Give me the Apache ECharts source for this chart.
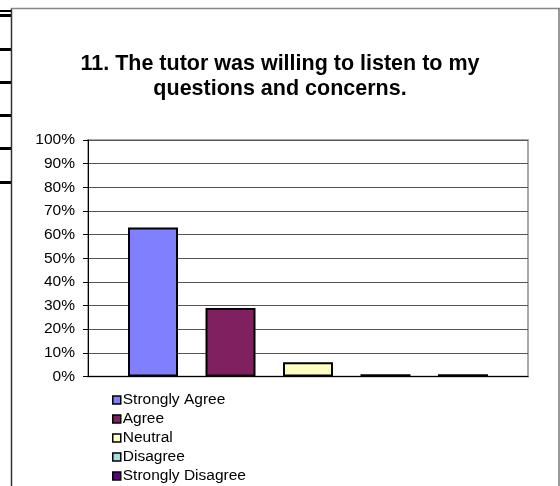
<!DOCTYPE html>
<html>
<head>
<meta charset="utf-8">
<script src="https://cdn.jsdelivr.net/npm/echarts@6/dist/echarts.min.js"></script>
<style>
html,body{margin:0;padding:0;background:#fff;}
#chart{width:560px;height:486px;}
</style>
</head>
<body>
<div id="chart"></div>
<script>
const titleText = '11. The tutor was willing to listen to my\nquestions and concerns.';
const categories = [''];
const seriesNames = ['Strongly Agree', 'Agree', 'Neutral', 'Disagree', 'Strongly Disagree'];
const seriesValues = [63, 29, 6, 1, 1];
const seriesColors = ['#8080FF', '#802060', '#FFFFC0', '#A0E0E0', '#600080'];
const yMin = 0, yMax = 100, yStep = 10;

const FONT = '"Liberation Sans", Arial, sans-serif';
const chart = echarts.init(document.getElementById('chart'), null, {renderer: 'canvas'});

const decoBars = [[10, 2], [14, 3], [48, 3], [81, 3], [114, 3], [147, 3], [181, 3]];
const graphics = decoBars.map(function (d) {
  return {type: 'rect', shape: {x: 0, y: d[0], width: 11, height: d[1]}, style: {fill: '#000'}, silent: true};
});
graphics.push({type: 'line', shape: {x1: 11.5, y1: 8, x2: 11.5, y2: 486}, style: {stroke: '#333', lineWidth: 1.5}, silent: true});
graphics.push({type: 'line', shape: {x1: 11, y1: 8.5, x2: 560, y2: 8.5}, style: {stroke: '#888', lineWidth: 1.5}, silent: true});
graphics.push({type: 'line', shape: {x1: 559, y1: 8, x2: 559, y2: 486}, style: {stroke: '#777', lineWidth: 1.5}, silent: true});

chart.setOption({
  animation: false,
  backgroundColor: '#fff',
  textStyle: {fontFamily: FONT},
  title: {
    text: titleText,
    left: 'center',
    top: 47,
    textStyle: {fontFamily: FONT, fontSize: 21.5, fontWeight: 'bold', color: '#000', lineHeight: 25}
  },
  graphic: graphics,
  grid: {
    left: 88, right: 32, top: 140, bottom: 109.5,
    show: true, borderColor: '#aaa', borderWidth: 2, backgroundColor: 'transparent',
    containLabel: false
  },
  legend: {
    orient: 'vertical',
    left: 112,
    top: 392,
    itemWidth: 8,
    itemHeight: 8,
    itemGap: 3,
    icon: 'rect',
    padding: 0,
    textStyle: {fontFamily: FONT, fontSize: 15.5, color: '#000', lineHeight: 16, padding: [0, 0, 0, -3]},
    data: seriesNames.map(function (n, i) {
      return {name: n, itemStyle: {color: seriesColors[i], borderColor: '#000', borderWidth: 1.5}};
    })
  },
  xAxis: {
    type: 'category',
    data: categories,
    axisLine: {show: true, lineStyle: {color: '#000', width: 1}},
    axisTick: {show: false},
    axisLabel: {show: false},
    splitLine: {show: false}
  },
  yAxis: {
    type: 'value',
    min: yMin, max: yMax, interval: yStep,
    axisLine: {show: true, lineStyle: {color: '#000', width: 1}},
    axisTick: {show: true, length: 5, lineStyle: {color: '#000'}},
    axisLabel: {formatter: '{value}%', fontFamily: FONT, fontSize: 15.5, color: '#000', margin: 13},
    splitLine: {show: true, lineStyle: {color: '#555', width: 1}}
  },
  series: seriesNames.map(function (n, i) {
    return {
      name: n,
      type: 'bar',
      data: [seriesValues[i]],
      barWidth: 50,
      barGap: '55%',
      itemStyle: {color: seriesColors[i], borderColor: '#000', borderWidth: 2},
      emphasis: {disabled: true}
    };
  })
});
</script>
</body>
</html>
